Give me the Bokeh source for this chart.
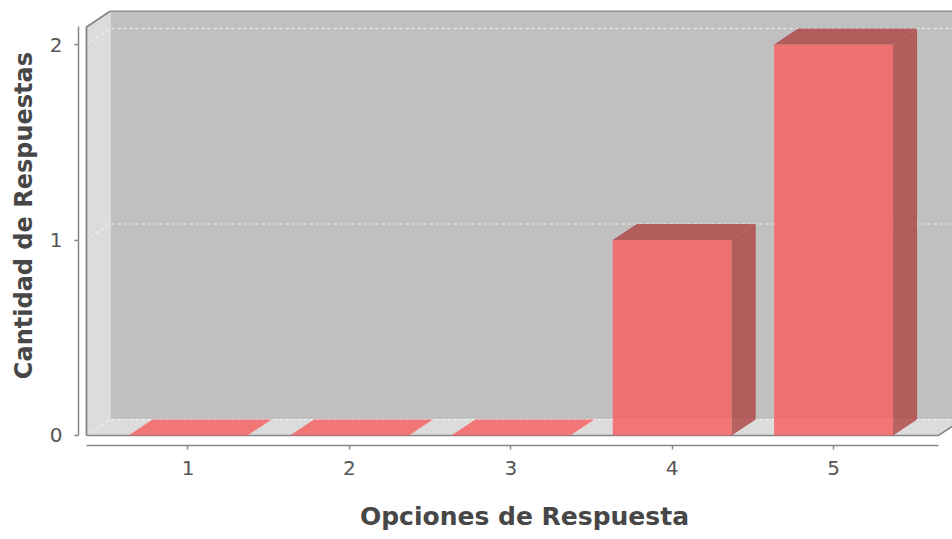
import math
from bokeh.plotting import figure
from bokeh.models import FixedTicker, ColumnDataSource, Label
from bokeh.embed import file_html
from bokeh.resources import INLINE

# ---- data ----
categories = ["1", "2", "3", "4", "5"]
counts = [0, 0, 0, 1, 2]
value_ticks = [0, 1, 2]
x_title = "Opciones de Respuesta"
y_title = "Cantidad de Respuestas"

# ---- geometry (data units of the front plane) ----
X_LO, X_HI = 0.3216, 5.7367
Y_LO, Y_HI = -0.0512, 2.174
FX0, FX1 = 0.371, 5.650          # front plane x extent
Y_MAX = 2.09                      # value axis upper bound
DX, DY = 0.1487, 0.0818           # 3D depth offset
BAR_W = 0.737
XTITLE_Y = -0.414                 # vertical place of the category axis title
YTITLE_X, YTITLE_Y = -0.019, 1.125

BAR = (247, 92, 92)
DARK = (175, 66, 66)
BACK = "#c0c0c0"
WALL = "#dcdcdc"
OUTLINE = "#858585"

p = figure(width=952, height=539, output_backend="svg", toolbar_location=None,
           x_range=(X_LO, X_HI), y_range=(Y_LO, Y_HI),
           min_border_left=78, min_border_right=0, min_border_top=10, min_border_bottom=94)
p.outline_line_color = None
p.xgrid.visible = False
p.ygrid.visible = False
p.background_fill_color = "white"
p.border_fill_color = "white"

# back wall
p.quad(left=FX0 + DX, right=X_HI + DX, bottom=DY, top=Y_MAX + DY,
       fill_color=BACK, line_color=None)
# floor
p.patch([FX0, FX1, FX1 + DX, FX0 + DX], [0, 0, DY, DY], fill_color=WALL, line_color=None)
# left wall
p.patch([FX0, FX0 + DX, FX0 + DX, FX0], [0, DY, Y_MAX + DY, Y_MAX],
        fill_color=WALL, line_color=None)

# gridlines
for v in value_ticks:
    p.line([FX0, FX0 + DX, X_HI + DX], [v, v + DY, v + DY],
           line_color="white", line_alpha=0.8, line_dash="3 3", line_width=1)

# outline
p.line([FX0, FX0, FX0 + DX, X_HI + DX], [0, Y_MAX, Y_MAX + DY, Y_MAX + DY],
       line_color=OUTLINE, line_width=1.8)
p.line([FX0, FX1, FX1 + DX], [0, 0, DY], line_color=OUTLINE, line_width=1.5)

# bars
xs = [i + 1 for i in range(len(categories))]
lefts = [x - BAR_W / 2 for x in xs]
rights = [x + BAR_W / 2 for x in xs]

side_x = [[r, r + DX, r + DX, r] for r in rights]
side_y = [[0, DY, v + DY, v] for v in counts]
top_x = [[l, r, r + DX, l + DX] for l, r in zip(lefts, rights)]
top_y = [[v, v, v + DY, v + DY] for v in counts]
top_c = ["#%02x%02x%02x" % (BAR if v == 0 else DARK) for v in counts]

src = ColumnDataSource(dict(left=lefts, right=rights, top=counts,
                            sx=side_x, sy=side_y, tx=top_x, ty=top_y, tc=top_c))
p.quad(left="left", right="right", bottom=0, top="top", source=src,
       fill_color="#%02x%02x%02x" % BAR, fill_alpha=0.8, line_color=None)
p.patches("sx", "sy", source=src, fill_color="#%02x%02x%02x" % DARK, fill_alpha=0.8,
          line_color=None)
p.patches("tx", "ty", source=src, fill_color="tc", fill_alpha=0.8, line_color=None)

# axes
for ax in (p.xaxis[0], p.yaxis[0]):
    ax.axis_line_color = "#888888"
    ax.axis_line_width = 1.5
    ax.major_tick_line_color = "#888888"
    ax.major_tick_line_width = 1.5
    ax.major_tick_out = 4
    ax.major_tick_in = 0
    ax.minor_tick_line_color = None
    ax.major_label_text_font = "DejaVu Sans"
    ax.major_label_text_font_size = "20px"
    ax.major_label_text_color = "#555555"

p.xaxis.ticker = FixedTicker(ticks=xs)
p.xaxis.major_label_overrides = {x: c for x, c in zip(xs, categories)}
p.xaxis.bounds = (FX0, FX1)
p.xaxis.major_label_standoff = 11

p.yaxis.ticker = FixedTicker(ticks=value_ticks)
p.yaxis.bounds = (0, Y_MAX)
p.yaxis.major_label_standoff = 12

# axis titles
xt = Label(x=(FX0 + FX1 + DX) / 2, y=XTITLE_Y, text=x_title,
           text_align="center", text_baseline="middle",
           text_font="DejaVu Sans", text_font_size="25px", text_font_style="bold",
           text_color="#474747")
p.add_layout(xt, "below")
yt = Label(x=YTITLE_X, y=YTITLE_Y, text=y_title, angle=math.pi / 2,
           text_align="center", text_baseline="middle",
           text_font="DejaVu Sans", text_font_size="24px", text_font_style="bold",
           text_color="#474747")
p.add_layout(yt, "left")

open("out.html", "w").write(file_html(p, INLINE))
